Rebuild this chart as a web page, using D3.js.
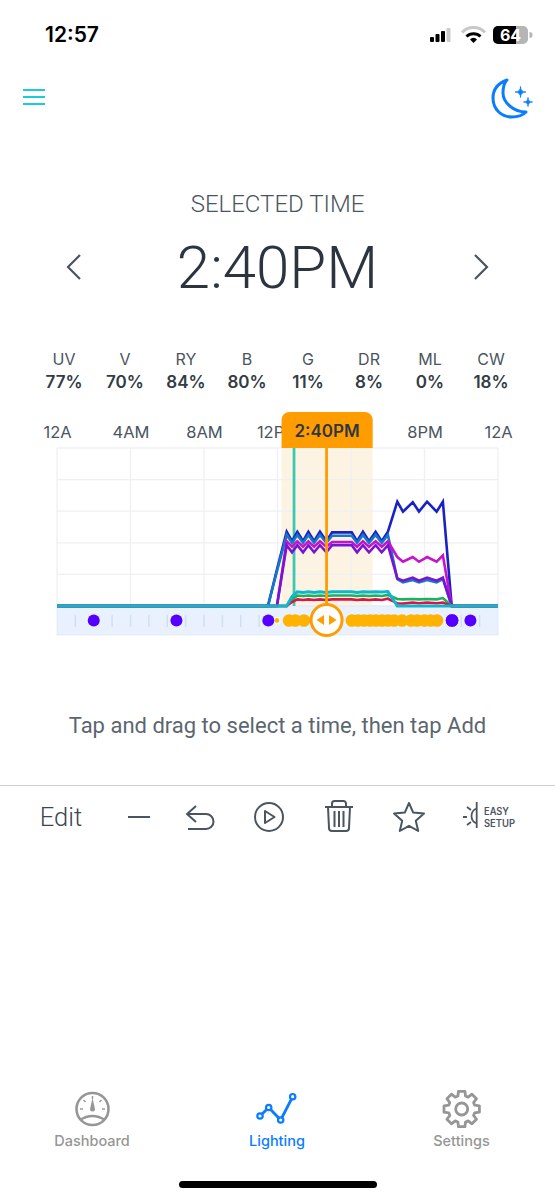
<!DOCTYPE html>
<html><head><meta charset="utf-8">
<script src="https://cdn.jsdelivr.net/npm/d3@7"></script>
<style>
html,body{margin:0;padding:0;background:#fff;width:555px;height:1200px;overflow:hidden}
svg{display:block}
text{font-family:Inter,Roboto,sans-serif}
</style></head><body>
<svg id="c" width="555" height="1200"></svg>
<script>
const channels=["UV","V","RY","B","G","DR","ML","CW"];
const channelPct=[77,70,84,80,11,8,0,18];
const xTickHours=[0,4,8,12,20,24];
const xTickLabels=["12A","4AM","8AM","12PM","8PM","12A"];
const gridHours=[0,4,8,12,16,20,24];
const gridLevels=[0,20,40,60,80,100];
const hours=[0,11.48,11.97,12.5,12.79,13.08,13.39,13.68,13.99,14.31,14.66,14.97,16.04,16.33,16.65,16.98,17.34,17.67,18.01,18.52,18.83,19.36,19.7,20.14,20.66,21.0,21.48,24];
const darkBlue=[0,0,23,47,41,47,41,47,41,47,41,46.6,46.6,41,47,41,47,41,47,66,59.7,65.6,59.8,66,59.7,66,0,0];
const steelBlue=[0,0,22,45,40,45,40,45,40,45,40,44.5,44.5,40,45,40,45,40,45,17,15,16.5,15,16.5,15,17,0,0];
const magenta=[0,0,0,41,37.5,41,37.5,41,37.5,41,37.5,40.5,40.5,37.5,41,37.5,41,37.5,41,31,28,31,28,31,28,32,0,0];
const purple=[0,0,0,38.5,34,38.5,34,38.5,34,38.5,34,38.5,38.5,34,38.5,34,38.5,34,38.5,17.5,16,18,16,18,16,18,0,0];
const teal=[0,0,0,0,6,9,8.6,9,8.6,9,8.6,9,9,8.6,9,8.8,9,8.8,9.2,0,0,0,0,0,0,0,0,0];
const green=[0,0,0,0,4,6.6,6.3,6.6,6.3,6.6,6.3,6.6,6.6,6.3,6.6,6.3,6.6,6.3,7,4.4,4.2,4.4,4.2,4.4,4.2,5,0,0];
const red=[0,0,0,0,2.5,4.2,3.8,4.2,3.8,4.2,3.8,4.2,4.2,3.8,4.2,3.8,4.2,3.8,4.6,1.7,1.5,2.2,1.7,2.2,1.7,2.2,0,0];
const seriesOrder=[["#1a22c4",darkBlue],["#1478c8",steelBlue],["#c414cc",magenta],["#7a14d2",purple],["#16b45c",green],["#dc1448",red],["#10b6cc",teal]];
const purpleDots=[2,6.5,11.5,21.5,22.5];
const yellowDots=[12.63,12.97,13.44,16.05,16.38,16.71,17.04,17.36,17.69,18.02,18.35,18.78,19.27,19.6,20.0,20.34,20.68];
const smallDot=[11.97];
const stripTicks=[1,3,4,5,6,7,8,9,10,11,22,23];
const selectedHour=14.67, teal2Hour=12.9, bandStart=12.22, bandEnd=17.18;

const svg=d3.select("#c");
const ink="#4a5561";
const x=d3.scaleLinear().domain([0,24]).range([57,498]);
const y=d3.scaleLinear().domain([0,100]).range([606,448]);
const T=(s,px,py,size,opt={})=>svg.append("text").text(s).attr("x",px).attr("y",py).attr("font-size",size)
  .attr("text-anchor",opt.a||"middle").attr("fill",opt.c||ink).attr("font-weight",opt.w||400)
  .style("font-family",opt.f||null);

// status bar
T("12:57",45,42,21,{a:"start",c:"#000",w:600});
[[430,37,4,5],[435.5,34,4,8],[441,31,4,11]].forEach(d=>svg.append("rect").attr("x",d[0]).attr("y",d[1]).attr("width",d[2]).attr("height",d[3]).attr("rx",1).attr("fill","#000"));
svg.append("rect").attr("x",446.5).attr("y",28).attr("width",4).attr("height",14).attr("rx",1).attr("fill","#ccc");
const wifi=svg.append("g").attr("fill","none");
wifi.append("path").attr("d","M462 32.5 A16 16 0 0 1 485 32.5").attr("stroke","#c8c8c8").attr("stroke-width",3);
wifi.append("path").attr("d","M466.5 36.5 A10 10 0 0 1 480.5 36.5").attr("stroke","#000").attr("stroke-width",3);
svg.append("path").attr("d","M470 39.5 A4.5 4.5 0 0 1 477 39.5 L473.5 43 Z").attr("fill","#000");
svg.append("rect").attr("x",493).attr("y",26).attr("width",35).attr("height",18).attr("rx",5).attr("fill","#b5b5b5");
svg.append("path").attr("d","M498 26 H516 V44 H498 A5 5 0 0 1 493 39 V31 A5 5 0 0 1 498 26Z").attr("fill","#000");
svg.append("path").attr("d","M529.5 32 A3 3 0 0 1 529.5 38 Z").attr("fill","#b5b5b5");
T("64",510.5,41,16,{c:"#fff",w:700});

// header icons
[90,97,104].forEach(v=>svg.append("line").attr("x1",23).attr("x2",45).attr("y1",v).attr("y2",v).attr("stroke","#19ccd8").attr("stroke-width",2));
svg.append("path").attr("d","M507 80 C496 84 493 92 493 98 C493 110 502 117 512 117 C518 117 523 115 526 112 C513 112 503 102 503 93 C503 87 504 83 507 80 Z").attr("fill","none").attr("stroke","#0a7cff").attr("stroke-width",3).attr("stroke-linejoin","round");
const star4=(cx,cy,r)=>`M${cx} ${cy-r} Q${cx} ${cy} ${cx+r} ${cy} Q${cx} ${cy} ${cx} ${cy+r} Q${cx} ${cy} ${cx-r} ${cy} Q${cx} ${cy} ${cx} ${cy-r}Z`;
svg.append("path").attr("d",star4(520.5,92,5.5)).attr("fill","#0a7cff").attr("stroke","#0a7cff").attr("stroke-width",.8);
svg.append("path").attr("d",star4(528,102,4.5)).attr("fill","#0a7cff").attr("stroke","#0a7cff").attr("stroke-width",.8);

// selected time
T("SELECTED TIME",277.5,212,24,{f:"Roboto",w:300});
T("2:40PM",277.5,288,60,{c:"#2c3440",f:"Roboto",w:300});
const chev=(d)=>svg.append("path").attr("d",d).attr("fill","none").attr("stroke",ink).attr("stroke-width",2.2);
chev("M80 255 L68 267 L80 279");
chev("M475 255 L487 267 L475 279");

// channels
const cx=d3.scalePoint().domain(channels).range([64,491]);
channels.forEach((c,i)=>{
  T(c,cx(c),365,16);
  T(channelPct[i]+"%",cx(c),387.5,17,{c:"#333b45",w:600});
});

// band behind grid
svg.append("rect").attr("x",x(bandStart)).attr("width",x(bandEnd)-x(bandStart)).attr("y",y(100)).attr("height",y(0)-y(100)).attr("fill","#fdf3e3");

// grid
const grid=svg.append("g").attr("stroke","#eef0f5").attr("stroke-width",1.3);
grid.selectAll("line.v").data(gridHours).join("line").attr("class","v").attr("x1",d=>x(d)).attr("x2",d=>x(d)).attr("y1",y(100)).attr("y2",y(0));
grid.selectAll("line.h").data(gridLevels).join("line").attr("class","h").attr("x1",x(0)).attr("x2",x(24)).attr("y1",d=>y(d)).attr("y2",d=>y(d));

// axis labels
const axis=d3.axisTop(x).tickValues(xTickHours).tickFormat(d=>xTickLabels[xTickHours.indexOf(d)]).tickSize(0).tickPadding(0);
const ag=svg.append("g").attr("transform","translate(0,438)").call(axis);
ag.select(".domain").remove();
ag.selectAll("text").attr("font-size",16.5).attr("fill",ink).style("font-family","Inter,Roboto,sans-serif");

// badge
const bx0=x(bandStart),bx1=x(bandEnd);
svg.append("path").attr("d",`M${bx0} 448 V420 A8 8 0 0 1 ${bx0+8} 412 H${bx1-8} A8 8 0 0 1 ${bx1} 420 V448 Z`).attr("fill","#ff9d00");
T("2:40PM",(bx0+bx1)/2,437,17,{c:"#2f3640",w:600});

// strip
svg.append("rect").attr("x",x(0)).attr("y",606).attr("width",x(24)-x(0)).attr("height",29).attr("fill","#e8f1fd").attr("stroke","#e0e9f5").attr("stroke-width",.8);
svg.append("g").selectAll("line").data(stripTicks).join("line").attr("x1",d=>x(d)).attr("x2",d=>x(d)).attr("y1",615).attr("y2",627).attr("stroke","#cfe0f4").attr("stroke-width",1.5);

// vertical selection lines
svg.append("line").attr("x1",x(teal2Hour)).attr("x2",x(teal2Hour)).attr("y1",448).attr("y2",606).attr("stroke","#3cc8b4").attr("stroke-width",2.8);

// series
const line=d3.line().x((d,i)=>x(hours[i])).y(d=>y(d));
const lg=svg.append("g").attr("fill","none").attr("stroke-width",2.6).attr("stroke-linejoin","miter");
seriesOrder.forEach(s=>lg.append("path").attr("d",line(s[1])).attr("stroke",s[0]));
lg.select("path:last-child").attr("stroke-width",3);

svg.append("line").attr("x1",x(selectedHour)).attr("x2",x(selectedHour)).attr("y1",448).attr("y2",606).attr("stroke","#ff9d00").attr("stroke-width",2.8);

// dots
svg.append("g").selectAll("circle").data(smallDot).join("circle").attr("cx",d=>x(d)).attr("cy",620.5).attr("r",3).attr("fill","#ffb300").attr("stroke","#fff").attr("stroke-width",1.2);
svg.append("g").selectAll("circle").data(yellowDots).join("circle").attr("cx",d=>x(d)).attr("cy",620.5).attr("r",6.3).attr("fill","#ffb300");
svg.append("g").selectAll("circle").data(purpleDots).join("circle").attr("cx",d=>x(d)).attr("cy",620.5).attr("r",d=>d===21.5?7:6).attr("fill","#5500ff").attr("stroke",d=>d===21.5?"#fff":"none").attr("stroke-width",1);

// handle
const hx=x(selectedHour);
svg.append("circle").attr("cx",hx).attr("cy",620).attr("r",15.5).attr("fill","#fff").attr("stroke","#ff9d00").attr("stroke-width",3);
svg.append("path").attr("d",`M${hx-2.5} 615 V625 L${hx-10} 620 Z M${hx+2.5} 615 V625 L${hx+10} 620 Z`).attr("fill","#ff9d00");

// caption
T("Tap and drag to select a time, then tap Add",277.5,733,22,{c:"#5b6670",f:"Roboto"});

// divider
svg.append("line").attr("x1",0).attr("x2",555).attr("y1",785.5).attr("y2",785.5).attr("stroke","#cfcfcf");

// toolbar
T("Edit",61,826,25.5,{f:"Roboto",w:300,c:"#3d4752"});
const icon=(d,w=2)=>svg.append("path").attr("d",d).attr("fill","none").attr("stroke",ink).attr("stroke-width",w).attr("stroke-linejoin","round");
icon("M128 817 H150");
icon("M196 806 L187 814 L196 822 M187 814 H206 A7.5 7.5 0 0 1 206 829 H188");
svg.append("circle").attr("cx",269).attr("cy",817).attr("r",14).attr("fill","none").attr("stroke",ink).attr("stroke-width",2);
icon("M265 811 L274.5 817 L265 823 Z");
icon("M325 807 H353 M332 807 V803.5 A2.5 2.5 0 0 1 334.5 801 H343.5 A2.5 2.5 0 0 1 346 803.5 V807 M328 807 L329 828 A3 3 0 0 0 332 831 H346 A3 3 0 0 0 349 828 L350 807 M334.5 811 V827 M339 811 V827 M343.5 811 V827");
icon("M409 803 L413.2 812.6 L424 813.6 L415.8 820.8 L418.2 831 L409 825.8 L399.8 831 L402.2 820.8 L394 813.6 L404.8 812.6 Z");
icon("M476.7 802 V828 M476.7 808.5 A8 8 0 0 0 476.7 823.5 M463 817 H467 M467 807 L471 810 M467 825 L471 822",1.8);
T("EASY",484,814.5,9.8,{a:"start",w:600}).attr("textLength",25).attr("lengthAdjust","spacingAndGlyphs");
T("SETUP",484,826.5,9.8,{a:"start",w:600}).attr("textLength",31).attr("lengthAdjust","spacingAndGlyphs");

// tab bar
const grey="#969696",blue="#0a7cff";
svg.append("circle").attr("cx",92.5).attr("cy",1109).attr("r",16).attr("fill","none").attr("stroke",grey).attr("stroke-width",2.6);
svg.append("path").attr("d","M92.5 1098 L95 1109 A2.5 2.5 0 0 1 90 1109 Z").attr("fill",grey);
svg.append("path").attr("d","M80 1120 Q92.5 1112 105 1120").attr("fill","none").attr("stroke",grey).attr("stroke-width",2.6);
[[92.5,1096,92.5,1099],[80,1109,83,1109],[105,1109,102,1109],[83.5,1100,85.5,1102],[101.5,1100,99.5,1102]].forEach(a=>svg.append("line").attr("x1",a[0]).attr("y1",a[1]).attr("x2",a[2]).attr("y2",a[3]).attr("stroke",grey).attr("stroke-width",1.4));
T("Dashboard",92,1146,14.5,{c:grey,w:500});
const pts=[[260,1116],[268.7,1107.5],[280.7,1120],[292.7,1096.7]];
svg.append("path").attr("d",d3.line()(pts)).attr("fill","none").attr("stroke",blue).attr("stroke-width",2.8);
pts.forEach(p=>svg.append("circle").attr("cx",p[0]).attr("cy",p[1]).attr("r",2.7).attr("fill","#fff").attr("stroke",blue).attr("stroke-width",2.2));
T("Lighting",277,1146,14.5,{c:blue,w:500});
const gearPts=[];const N=8,R1=18,R2=13.5;
for(let i=0;i<N;i++){const a=i/N*2*Math.PI-Math.PI/2;
  [[-.27,R2],[-.17,R1],[.17,R1],[.27,R2]].forEach(([o,r])=>gearPts.push([461.7+r*Math.cos(a+o*2*Math.PI/N*1.35),1109+r*Math.sin(a+o*2*Math.PI/N*1.35)]));}
svg.append("path").attr("d",d3.line().curve(d3.curveLinearClosed)(gearPts)).attr("fill","none").attr("stroke",grey).attr("stroke-width",2.8).attr("stroke-linejoin","round");
svg.append("circle").attr("cx",461.7).attr("cy",1109).attr("r",6).attr("fill","none").attr("stroke",grey).attr("stroke-width",2.8);
T("Settings",461.5,1146,14.5,{c:grey,w:500});
svg.append("rect").attr("x",179).attr("y",1181).attr("width",198).attr("height",7).attr("rx",3.5).attr("fill","#000");
</script></body></html>
